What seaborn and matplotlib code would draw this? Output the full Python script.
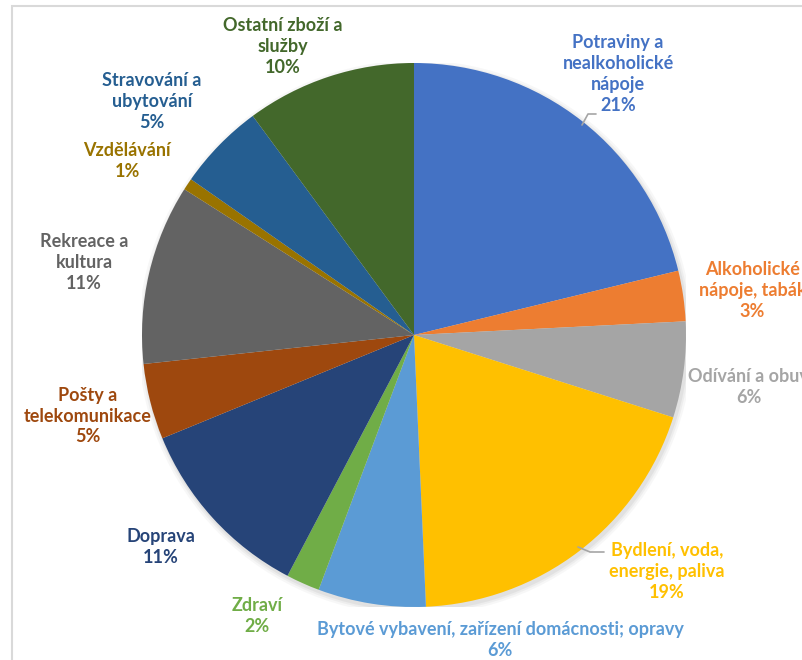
import matplotlib
matplotlib.use("Agg")
import matplotlib.pyplot as plt
import seaborn as sns
from matplotlib.patches import Rectangle, Circle

# ---- data ----
categories = [
    "Potraviny a\nnealkoholické\nnápoje",
    "Alkoholické\nnápoje, tabák",
    "Odívání a obuv",
    "Bydlení, voda,\nenergie, paliva",
    "Bytové vybavení, zařízení domácnosti; opravy",
    "Zdraví",
    "Doprava",
    "Pošty a\ntelekomunikace",
    "Rekreace a\nkultura",
    "Vzdělávání",
    "Stravování a\nubytování",
    "Ostatní zboží a\nslužby",
]
shares = [21.2, 3.0, 5.7, 19.4, 6.4, 2.0, 11.1, 4.5, 10.7, 0.7, 5.2, 10.1]
pct_labels = ["21%", "3%", "6%", "19%", "6%", "2%", "11%", "5%", "11%", "1%", "5%", "10%"]

colors = ["#4472C4", "#ED7D31", "#A5A5A5", "#FFC000", "#5B9BD5", "#70AD47",
          "#264478", "#9E480E", "#636363", "#997300", "#255E91", "#43682B"]

# label centres (pie units, radius = 1)
label_pos = [(0.75, 0.96), (1.245, 0.165), (1.23, -0.19), (0.93, -0.87),
             (0.316, -1.12), (-0.577, -1.033), (-0.93, -0.78), (-1.2, -0.298),
             (-1.213, 0.268), (-1.055, 0.64), (-0.963, 0.857), (-0.482, 1.062)]

sns.set_theme(style="white")
plt.rcParams['font.family'] = ['Lato', 'DejaVu Sans']

fig = plt.figure(figsize=(8.02, 6.6), dpi=100)
W, H = 802, 660
cx, cy, r = 414, 335, 272
ax = fig.add_axes([(cx - r) / W, (H - cy - r) / H, 2 * r / W, 2 * r / H])

# chart frame (cut off at right and bottom)
fig.patches.append(Rectangle((12 / W, -0.1), 1.2, (H - 6) / H + 0.1,
                             transform=fig.transFigure, fill=False,
                             edgecolor="#D9D9D9", linewidth=1.5))

# soft shadow under the pie
for k, a in [(1.02, 0.06), (1.012, 0.08), (1.005, 0.1)]:
    ax.add_patch(Circle((0.006, -0.01), k, color="#808080", alpha=a, linewidth=0))

ax.pie(shares, colors=colors, startangle=90, counterclock=False,
       radius=1, wedgeprops=dict(linewidth=0))
ax.set_xlim(-1, 1)
ax.set_ylim(-1, 1)
ax.set_aspect("equal")
ax.axis("off")

for name, pct, col, (x, y) in zip(categories, pct_labels, colors, label_pos):
    ax.text(x, y, name + "\n" + pct, ha="center", va="center", color=col,
            fontsize=13, fontweight="bold", linespacing=1.28, clip_on=False)

# leader lines
def px(p):
    return ((p[0] - cx) / r, (cy - p[1]) / r)

for pts in [[(582, 125), (588, 114), (596, 114)],
            [(578, 547), (590, 552), (604, 552)]]:
    xs, ys = zip(*[px(p) for p in pts])
    ax.plot(xs, ys, color="#A5A5A5", linewidth=1.2, clip_on=False)

fig.savefig("out.png", dpi=100)
